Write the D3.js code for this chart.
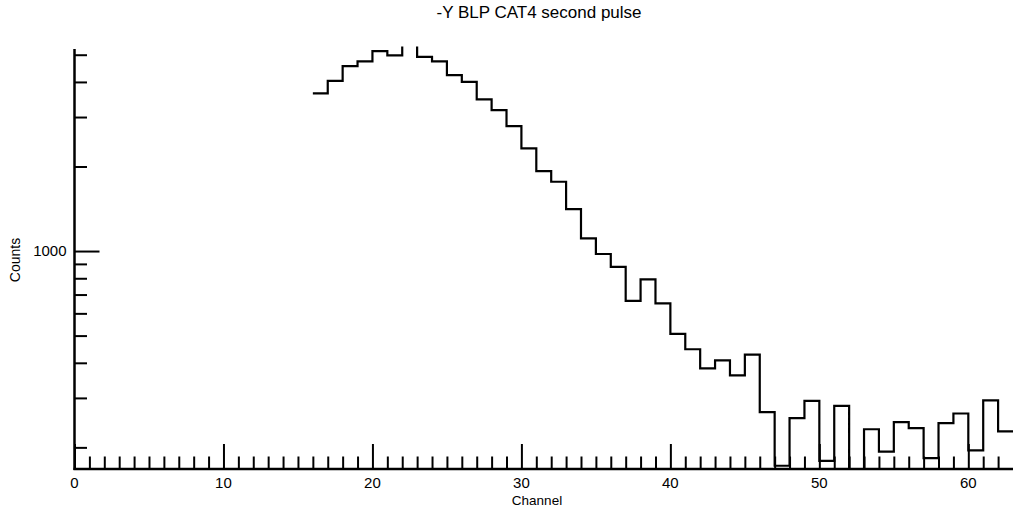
<!DOCTYPE html>
<html>
<head>
<meta charset="utf-8">
<script src="https://cdn.jsdelivr.net/npm/d3@7"></script>
<style>
  html, body { margin: 0; padding: 0; background: #fff; }
  svg { display: block; }
  text { font-family: "Liberation Sans", Arial, sans-serif; fill: #000; }
</style>
</head>
<body>
<svg id="chart" width="1014" height="515"></svg>
<script>
// ---- data ----
const title = "-Y BLP CAT4 second pulse";
const xLabel = "Channel";
const yLabel = "Counts";
const firstChannel = 16;
const counts = [
  3641, 4037, 4553, 4732, 5150, 4972, 5600, 4916, 4732, 4230,
  4005, 3467, 3176, 2785, 2321, 1926, 1765, 1411, 1110, 976,
  879, 665, 793, 651, 507, 447, 382, 408, 361, 428,
  267, 172, 254, 293, 179, 281, 167, 232, 193, 246,
  234, 183, 244, 264, 195, 294, 228
];
const xDomain = [0, 63];
const yDomain = [167.5, 5240];
const xMajorTicks = [0, 10, 20, 30, 40, 50, 60];
const yLabeledTicks = [1000];
const yMinorTicks = [200, 300, 400, 500, 600, 700, 800, 900, 2000, 3000, 4000, 5000];

(function () {
// ---- layout ----
const svg = d3.select("#chart");
const mLeft = 74.5, mRight = 1013, mTop = 49, mBottom = 469;

const x = d3.scaleLinear().domain(xDomain).range([mLeft, mRight]);
const y = d3.scaleLog().domain(yDomain).range([mBottom, mTop]);

// title
svg.append("text").attr("x", 539).attr("y", 18)
  .attr("text-anchor", "middle").attr("font-size", 17).text(title);

// clip
svg.append("clipPath").attr("id", "clip").append("rect")
  .attr("x", mLeft).attr("y", mTop - 2.5).attr("width", mRight - mLeft + 2).attr("height", mBottom - mTop + 3);

// data as step line
const pts = counts.map((c, i) => [firstChannel + i, c]);
pts.push([firstChannel + counts.length, counts[counts.length - 1]]);
const line = d3.line().x(d => x(d[0])).y(d => y(d[1])).curve(d3.curveStepAfter);
svg.append("path").datum(pts)
  .attr("clip-path", "url(#clip)")
  .attr("fill", "none").attr("stroke", "#000").attr("stroke-width", 2.2)
  .attr("stroke-linejoin", "miter").attr("d", line);

// x axis
const xMinor = d3.range(1, 63).filter(v => v % 10 !== 0);
const xAxisMinor = d3.axisTop(x).tickValues(xMinor).tickSize(12.5).tickFormat("");
const xAxisMajor = d3.axisTop(x).tickValues(xMajorTicks).tickSize(25).tickFormat("");
[xAxisMinor, xAxisMajor].forEach(ax => {
  const g = svg.append("g").attr("transform", `translate(0,${mBottom})`).call(ax);
  g.select(".domain").remove();
  g.selectAll("line").attr("stroke", "#000").attr("stroke-width", 2);
});
svg.append("line").attr("x1", mLeft - 1).attr("x2", mRight).attr("y1", mBottom).attr("y2", mBottom)
  .attr("stroke", "#000").attr("stroke-width", 2.5);
svg.append("g").selectAll("text").data(xMajorTicks).join("text")
  .attr("x", d => x(d)).attr("y", 488).attr("text-anchor", "middle")
  .attr("font-size", 15).text(d => d);
svg.append("text").attr("x", 537).attr("y", 505).attr("text-anchor", "middle")
  .attr("font-size", 13.5).text(xLabel);

// y axis
const yAxisMinor = d3.axisRight(y).tickValues(yMinorTicks).tickSize(12.5).tickFormat("");
const yAxisMajor = d3.axisRight(y).tickValues(yLabeledTicks).tickSize(25).tickFormat("");
[yAxisMinor, yAxisMajor].forEach(ax => {
  const g = svg.append("g").attr("transform", `translate(${mLeft},0)`).call(ax);
  g.select(".domain").remove();
  g.selectAll("line").attr("stroke", "#000").attr("stroke-width", 2);
});
svg.append("line").attr("x1", mLeft).attr("x2", mLeft).attr("y1", mTop).attr("y2", mBottom + 1)
  .attr("stroke", "#000").attr("stroke-width", 2.5);
svg.append("g").selectAll("text").data(yLabeledTicks).join("text")
  .attr("x", mLeft - 8).attr("y", d => y(d)).attr("dy", "0.35em")
  .attr("text-anchor", "end").attr("font-size", 15).text(d => d);
svg.append("text").attr("transform", `translate(20,260) rotate(-90)`)
  .attr("text-anchor", "middle").attr("font-size", 14).text(yLabel);
})();
</script>
</body>
</html>
